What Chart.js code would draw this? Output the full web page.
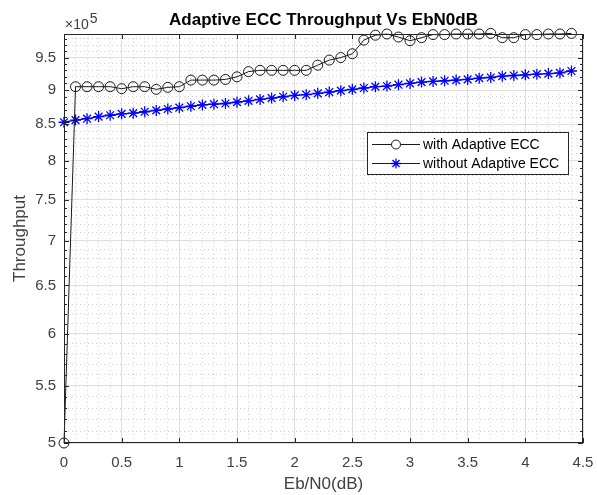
<!DOCTYPE html>
<html>
<head>
<meta charset="utf-8">
<script src="https://cdn.jsdelivr.net/npm/chart.js@4.4.0/dist/chart.umd.min.js"></script>
<style>
  html, body { margin: 0; padding: 0; background: #fff; }
</style>
</head>
<body>
<canvas id="chart" width="597" height="495"></canvas>
<script>
//---data---
const xValues = [0, 0.1, 0.2, 0.3, 0.4, 0.5, 0.6, 0.7, 0.8, 0.9,
  1.0, 1.1, 1.2, 1.3, 1.4, 1.5, 1.6, 1.7, 1.8, 1.9,
  2.0, 2.1, 2.2, 2.3, 2.4, 2.5, 2.6, 2.7, 2.8, 2.9,
  3.0, 3.1, 3.2, 3.3, 3.4, 3.5, 3.6, 3.7, 3.8, 3.9,
  4.0, 4.1, 4.2, 4.3, 4.4];

const withAdaptive = [500000, 905000, 905000, 905000, 905000, 902000, 905000, 905000, 901000, 904000,
  905000, 915000, 915000, 915000, 916000, 920000, 928000, 930000, 930000, 930000,
  930000, 930000, 938000, 946000, 950000, 956000, 978000, 986000, 988000, 983000,
  977000, 982000, 987000, 987000, 988000, 988000, 988000, 989000, 982000, 982000,
  987000, 987000, 988000, 988000, 989000];

const withoutAdaptive = [853000, 856000, 858000, 861000, 863000, 865000, 866000, 868000, 870000, 872000,
  874000, 876000, 878000, 879000, 880000, 882000, 884000, 886000, 888000, 890000,
  892000, 893000, 895000, 897000, 899000, 901000, 903000, 905000, 906000, 908000,
  910000, 912000, 913000, 914000, 915000, 916000, 918000, 919000, 921000, 922000,
  923000, 924000, 925000, 926000, 929000];

const seriesNames = ['with Adaptive ECC', 'without Adaptive ECC'];
const chartTitle = 'Adaptive ECC Throughput Vs EbN0dB';
const xTickLabels = ['0', '0.5', '1', '1.5', '2', '2.5', '3', '3.5', '4', '4.5'];
const yTickLabels = ['5', '5.5', '6', '6.5', '7', '7.5', '8', '8.5', '9', '9.5'];

//---axis limits---
const xMin = 0, xMax = 4.5;
const yMin = 500000, yMax = 988000;

//---tick lists (major from labels, minor every 0.1)---
const xMajor = xTickLabels.map(s => parseFloat(s));
const yMajor = yTickLabels.map(s => parseFloat(s) * 1e5);
const xMinor = [];
for (let i = 0; i <= 45; i++) xMinor.push(i / 10);
const yMinor = [];
for (let i = 50; i <= 98; i++) yMinor.push(i * 1e4);

const FONT = '"Liberation Sans", Arial, sans-serif';
const AXIS_COLOR = '#262626';
const LABEL_COLOR = '#404040';

function isMajorX(v) { return xMajor.some(m => Math.abs(m - v) < 1e-6); }
function isMajorY(v) { return yMajor.some(m => Math.abs(m - v) < 1); }

function gridColor(ctx, isMajor) {
  if (!ctx.tick) return '#dedede';
  return isMajor(ctx.tick.value) ? '#dedede' : '#d0d0d0';
}
function gridDash(ctx, isMajor) {
  if (!ctx.tick) return [];
  return isMajor(ctx.tick.value) ? [] : [1, 3];
}

//---extras: title over the axes, box, inward ticks, exponent, legend---
const matlabExtras = {
  id: 'matlabExtras',
  afterDraw(chart) {
    const { ctx, chartArea: a, scales: { x, y } } = chart;
    const ds = chart.data.datasets;
    ctx.save();

    // title centred on the axes
    ctx.fillStyle = '#000';
    ctx.font = 'bold 17px ' + FONT;
    ctx.textAlign = 'center';
    ctx.textBaseline = 'alphabetic';
    ctx.fillText(chartTitle, (a.left + a.right) / 2, a.top - 9);

    ctx.strokeStyle = AXIS_COLOR;
    ctx.lineWidth = 1;
    ctx.strokeRect(Math.round(a.left) + 0.5, Math.round(a.top) + 0.5,
      Math.round(a.right - a.left) - 1, Math.round(a.bottom - a.top) - 1);

    // tick marks pointing inward
    ctx.beginPath();
    xMajor.forEach(v => {
      const px = Math.round(x.getPixelForValue(v)) + 0.5;
      ctx.moveTo(px, a.bottom); ctx.lineTo(px, a.bottom - 5);
      ctx.moveTo(px, a.top); ctx.lineTo(px, a.top + 5);
    });
    yMinor.forEach(v => {
      const py = Math.round(y.getPixelForValue(v)) + 0.5;
      const len = isMajorY(v) ? 5 : 3;
      ctx.moveTo(a.left, py); ctx.lineTo(a.left + len, py);
      ctx.moveTo(a.right, py); ctx.lineTo(a.right - len, py);
    });
    ctx.stroke();

    // x10^5 exponent label
    ctx.fillStyle = LABEL_COLOR;
    ctx.font = '14px ' + FONT;
    ctx.textAlign = 'left';
    ctx.fillText('\u00d710', a.left + 1, a.top - 5);
    const w = ctx.measureText('\u00d710').width;
    ctx.fillText('5', a.left + 2 + w, a.top - 11);

    // legend
    const lx = 367, ly = 132, lw = 201, lh = 42;
    ctx.fillStyle = '#fff';
    ctx.fillRect(lx, ly, lw, lh);
    ctx.strokeStyle = AXIS_COLOR;
    ctx.strokeRect(lx + 0.5, ly + 0.5, lw, lh);
    ctx.font = '14px ' + FONT;
    ctx.textBaseline = 'middle';
    const rows = [ly + 12, ly + 31];
    ds.forEach((d, i) => {
      const ry = rows[i];
      ctx.strokeStyle = d.borderColor;
      ctx.lineWidth = 1;
      ctx.beginPath();
      ctx.moveTo(lx + 5, ry + 0.5); ctx.lineTo(lx + 53, ry + 0.5);
      ctx.stroke();
      ctx.lineWidth = d.pointBorderWidth;
      Chart.helpers.drawPoint(ctx, {
        pointStyle: d.pointStyle, radius: d.pointRadius - 0.5, borderWidth: d.pointBorderWidth, rotation: 0
      }, lx + 29, ry + 0.5);
      ctx.fillStyle = '#000';
      ctx.fillText(seriesNames[i], lx + 56, ry + 1);
    });

    ctx.restore();
  }
};

const toPoints = ys => xValues.map((xv, i) => ({ x: xv, y: ys[i] }));

new Chart(document.getElementById('chart'), {
  type: 'line',
  data: {
    datasets: [{
      label: seriesNames[0],
      data: toPoints(withAdaptive),
      borderColor: '#1a1a1a',
      backgroundColor: 'rgba(0,0,0,0)',
      borderWidth: 1,
      pointStyle: 'circle',
      pointRadius: 5,
      pointBorderWidth: 1,
      pointBorderColor: '#1a1a1a',
      pointBackgroundColor: 'rgba(0,0,0,0)',
      tension: 0,
      clip: false
    }, {
      label: seriesNames[1],
      data: toPoints(withoutAdaptive),
      borderColor: '#0000ff',
      backgroundColor: 'rgba(0,0,0,0)',
      borderWidth: 1.3,
      pointStyle: 'star',
      pointRadius: 5.5,
      pointBorderWidth: 1.3,
      pointBorderColor: '#0000ff',
      tension: 0,
      clip: false
    }]
  },
  options: {
    responsive: false,
    animation: false,
    events: [],
    layout: { padding: { left: 0, right: 14, top: 34, bottom: 0 } },
    plugins: {
      legend: { display: false },
      tooltip: { enabled: false },
      title: { display: false }
    },
    scales: {
      x: {
        type: 'linear',
        min: xMin,
        max: xMax,
        afterBuildTicks: s => { s.ticks = xMinor.map(v => ({ value: v })); },
        afterFit: s => { s.height = 52; s.paddingLeft = 0; s.paddingRight = 0; },
        ticks: {
          autoSkip: false,
          maxRotation: 0,
          padding: 11,
          color: LABEL_COLOR,
          font: { family: FONT, size: 15 },
          callback: v => isMajorX(v) ? xTickLabels[xMajor.findIndex(m => Math.abs(m - v) < 1e-6)] : ''
        },
        grid: {
          drawTicks: false,
          color: c => gridColor(c, isMajorX),
          lineWidth: 1
        },
        border: { display: false, dash: c => gridDash(c, isMajorX) },
        title: {
          display: true,
          text: 'Eb/N0(dB)',
          color: LABEL_COLOR,
          font: { family: FONT, size: 17 },
          padding: { top: 0, bottom: 0 }
        }
      },
      y: {
        type: 'logarithmic',
        min: yMin,
        max: yMax,
        afterBuildTicks: s => { s.ticks = yMinor.map(v => ({ value: v })); },
        afterFit: s => { s.width = 64; s.paddingTop = 0; s.paddingBottom = 0; },
        ticks: {
          autoSkip: false,
          padding: 8,
          color: LABEL_COLOR,
          font: { family: FONT, size: 15 },
          callback: v => isMajorY(v) ? yTickLabels[yMajor.findIndex(m => Math.abs(m - v) < 1)] : ''
        },
        grid: {
          drawTicks: false,
          color: c => gridColor(c, isMajorY),
          lineWidth: 1
        },
        border: { display: false, dash: c => gridDash(c, isMajorY) },
        title: {
          display: true,
          text: 'Throughput',
          color: LABEL_COLOR,
          font: { family: FONT, size: 17 },
          padding: { top: 10, bottom: 0 }
        }
      }
    }
  },
  plugins: [matlabExtras]
});
</script>
</body>
</html>
